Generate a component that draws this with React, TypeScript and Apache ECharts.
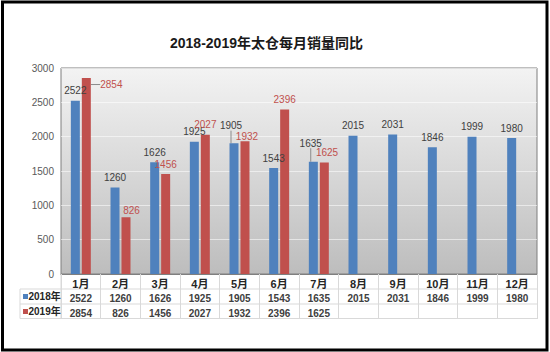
import React, { useEffect, useRef } from "react";
import * as echarts from "echarts";

const TITLE = "2018-2019年太仓每月销量同比";
const months = ["1月", "2月", "3月", "4月", "5月", "6月", "7月", "8月", "9月", "10月", "11月", "12月"];
const sales2018 = [2522, 1260, 1626, 1925, 1905, 1543, 1635, 2015, 2031, 1846, 1999, 1980];
const sales2019: (number | null)[] = [2854, 826, 1456, 2027, 1932, 2396, 1625, null, null, null, null, null];
const seriesNames = ["2018年", "2019年"];
const yTicks = { min: 0, max: 3000, interval: 500 };

const BLUE = "#4F81BD";
const RED = "#C0504D";
const NUM_FONT = "'Liberation Sans', 'Noto Sans CJK SC'";
const CJK_FONT = "'Liberation Sans', 'Noto Sans CJK SC'";

// label nudges (Excel-moved labels): [series][dataIndex] -> [dx, dy]
const labelNudge: Record<string, [number, number]> = {
  "0-4": [-3, -7.5],
  "0-6": [-2.6, -8.5],
  "1-0": [25, 16.5],
  "1-1": [5.5, 3],
  "1-4": [2, 5],
  "1-6": [2.7, 0],
};
const leaderLines = new Set(["0-4", "0-6", "1-0"]);

export default function App() {
  const ref = useRef<HTMLDivElement>(null);
  useEffect(() => {
    if (!ref.current) return;
    const chart = echarts.init(ref.current, null, { renderer: "svg" });
    const gridLeft = 61;
    const gridRight = 13;
    const gridTop = 68;
    const gridBottom = 78;
    const axisY = 352 - gridBottom;
    const mkData = (arr: (number | null)[], s: number) =>
      arr.map((v, i) => {
        const key = `${s}-${i}`;
        if (leaderLines.has(key)) {
          return { value: v, labelLine: { show: true, lineStyle: { color: "#8c8c8c", width: 1 } } };
        }
        return v;
      });
    chart.setOption({
      animation: false,
      backgroundColor: "#ffffff",
      title: {
        text: TITLE,
        left: 165,
        top: 31,
        textStyle: { fontSize: 14, fontWeight: "bold", color: "#1a1a1a", fontFamily: CJK_FONT },
      },
      grid: {
        left: gridLeft,
        right: gridRight,
        top: gridTop,
        bottom: gridBottom,
        show: true,
        borderColor: "#7f7f7f",
        borderWidth: 1,
        backgroundColor: new echarts.graphic.LinearGradient(0, 0, 0, 1, [
          { offset: 0, color: "#f3f3f3" },
          { offset: 1, color: "#bdbdbd" },
        ]),
      },
      xAxis: {
        type: "category",
        data: months,
        boundaryGap: true,
        axisLine: { show: true, lineStyle: { color: "#7f7f7f", width: 1 } },
        axisTick: { show: true, length: 45, alignWithLabel: false, lineStyle: { color: "#d9d9d9" } },
        axisLabel: {
          interval: 0,
          margin: 2,
          formatter: (value: string, idx: number) => {
            const a = sales2018[idx];
            const b = sales2019[idx];
            return `{c|${value}}\n{v|${a == null ? " " : a}}\n{v|${b == null ? " " : b}}`;
          },
          rich: {
            c: { fontSize: 11, fontWeight: "bold", color: "#262626", lineHeight: 15, fontFamily: CJK_FONT },
            v: { fontSize: 10, fontWeight: "bold", color: "#404040", lineHeight: 14.7, fontFamily: NUM_FONT },
          },
        },
      },
      yAxis: {
        type: "value",
        min: yTicks.min,
        max: yTicks.max,
        interval: yTicks.interval,
        axisLine: { show: false },
        axisTick: { show: false },
        splitLine: { show: true, lineStyle: { color: "rgba(255,255,255,0.55)", width: 1 } },
        axisLabel: { margin: 7, fontSize: 10, color: "#595959", fontFamily: NUM_FONT, formatter: (v: number) => String(v) },
      },
      series: [0, 1].map((s) => ({
        type: "bar",
        name: seriesNames[s],
        data: mkData(s === 0 ? sales2018 : sales2019, s),
        barWidth: 9,
        barGap: "22%",
        itemStyle: { color: s === 0 ? BLUE : RED },
        label: {
          show: true,
          position: "top",
          distance: 5,
          fontSize: 10,
          color: s === 0 ? "#404040" : RED,
          fontFamily: NUM_FONT,
        },
        labelLayout: (p: any) => {
          const n = labelNudge[`${p.seriesIndex}-${p.dataIndex}`];
          return n ? { dx: n[0], dy: n[1] } : {};
        },
      })),
      graphic: [
        {
          type: "rect",
          shape: { x: 2.5, y: 2, width: 544.5, height: 348 },
          style: { fill: "none", stroke: "#000", lineWidth: 3 },
          silent: true,
        },
        { type: "line", shape: { x1: 20, y1: 289, x2: 550 - gridRight, y2: 289 }, style: { stroke: "#d9d9d9", lineWidth: 1 } },
        { type: "line", shape: { x1: 20, y1: 304, x2: 550 - gridRight, y2: 304 }, style: { stroke: "#d9d9d9", lineWidth: 1 } },
        { type: "line", shape: { x1: 20, y1: 318.5, x2: 550 - gridRight, y2: 318.5 }, style: { stroke: "#d9d9d9", lineWidth: 1 } },
        { type: "line", shape: { x1: 20, y1: 289, x2: 20, y2: 318.5 }, style: { stroke: "#d9d9d9", lineWidth: 1 } },
        { type: "line", shape: { x1: gridLeft, y1: axisY, x2: gridLeft, y2: 318.5 }, style: { stroke: "#d9d9d9", lineWidth: 1 } },
        { type: "rect", shape: { x: 23, y: 294, width: 5, height: 5 }, style: { fill: BLUE } },
        { type: "rect", shape: { x: 23, y: 309, width: 5, height: 5 }, style: { fill: RED } },
        {
          type: "text",
          x: 28.5,
          y: 296.5,
          style: { text: seriesNames[0], fontSize: 10, fontWeight: "bold", fill: "#262626", fontFamily: CJK_FONT, verticalAlign: "middle" },
        },
        {
          type: "text",
          x: 28.5,
          y: 311.5,
          style: { text: seriesNames[1], fontSize: 10, fontWeight: "bold", fill: "#262626", fontFamily: CJK_FONT, verticalAlign: "middle" },
        },
      ],
    });
    return () => chart.dispose();
  }, []);
  return <div ref={ref} style={{ position: "absolute", left: 0, top: 0, width: 550, height: 352 }} />;
}
